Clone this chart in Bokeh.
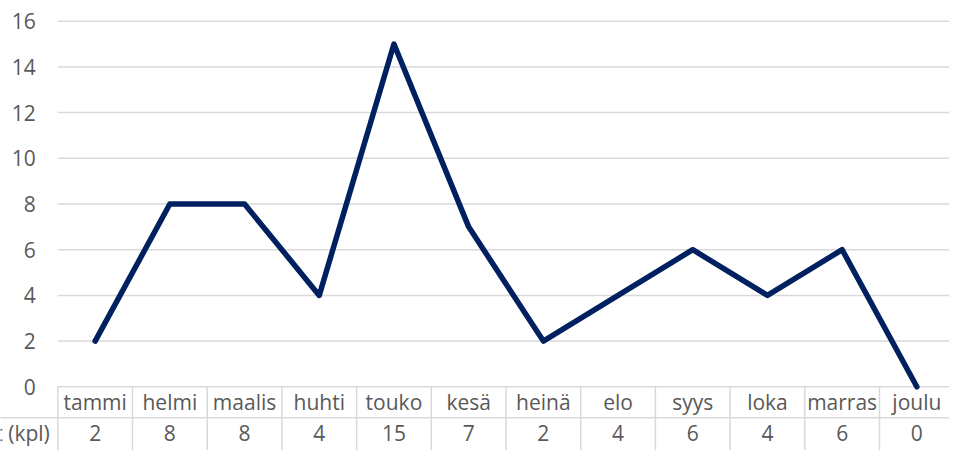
import numpy as np
from bokeh.plotting import figure
from bokeh.models import ColumnDataSource, Range1d
from bokeh.core.properties import value
from bokeh.embed import file_html
from bokeh.resources import INLINE

# ---- data ----
months = ["tammi", "helmi", "maalis", "huhti", "touko", "kesä",
          "heinä", "elo", "syys", "loka", "marras", "joulu"]
counts = [2, 8, 8, 4, 15, 7, 2, 4, 6, 4, 6, 0]
y_ticks = [0, 2, 4, 6, 8, 10, 12, 14, 16]
series_label = "Tapahtumat (kpl)"

# ---- styling / layout ----
FONT = value("Open Sans")
FS = "21px"
TXT = "#595959"
GRID = "#d9d9d9"
LINE = "#002060"
W, H = 949, 450
cat_px = 74.7          # width of one category column in px
px_per_unit = 22.85    # vertical px per data unit
left_px = 57.3         # space left of first category column
top_px = 20.7          # space above the top gridline
row_h = 31 / px_per_unit

n = len(months)
idx = np.arange(n)
x0 = -0.5 - left_px / cat_px
x1 = x0 + W / cat_px
y1 = max(y_ticks) + top_px / px_per_unit
y0 = y1 - H / px_per_unit

p = figure(width=W, height=H, output_backend="svg", toolbar_location=None,
           x_range=Range1d(x0, x1), y_range=Range1d(y0, y1),
           x_axis_location=None, y_axis_location=None, min_border=0)
p.outline_line_color = None
p.xgrid.visible = False
p.ygrid.visible = False
p.background_fill_color = "white"
p.border_fill_color = "white"

# horizontal gridlines (the 0 line doubles as the table's top border)
p.segment(x0=[-0.5] * len(y_ticks), x1=[n - 0.5] * len(y_ticks),
          y0=y_ticks, y1=y_ticks, line_color=GRID, line_width=1.5)

# y tick labels
p.text(x=[-0.5] * len(y_ticks), y=y_ticks, text=[str(t) for t in y_ticks],
       x_offset=-22, text_align="right", text_baseline="middle",
       text_font=FONT, text_font_size=FS, text_color=TXT)

# data table: vertical cell borders
bounds = np.arange(n + 1) - 0.5
p.segment(x0=bounds, x1=bounds, y0=[0] * (n + 1), y1=[y0 - 1] * (n + 1),
          line_color=GRID, line_width=1.5)
# row separator between header row and value row
p.segment(x0=[x0 - 1], x1=[n - 0.5], y0=[-row_h], y1=[-row_h],
          line_color=GRID, line_width=1.5)

# table texts
p.text(x=idx, y=[-row_h / 2] * n, text=months, text_align="center",
       text_baseline="middle", text_font=FONT, text_font_size=FS,
       text_color=TXT)
p.text(x=idx, y=[-1.5 * row_h] * n, text=[str(c) for c in counts],
       text_align="center", text_baseline="middle", text_font=FONT,
       text_font_size=FS, text_color=TXT)
p.text(x=[-0.5], y=[-1.5 * row_h], text=[series_label], x_offset=-8,
       text_align="right", text_baseline="middle", text_font=FONT,
       text_font_size=FS, text_color=TXT)

# the series line
src = ColumnDataSource(dict(x=idx, y=counts))
p.line("x", "y", source=src, line_color=LINE, line_width=5.5,
       line_join="round", line_cap="round")

open("out.html", "w").write(file_html(p, INLINE))
